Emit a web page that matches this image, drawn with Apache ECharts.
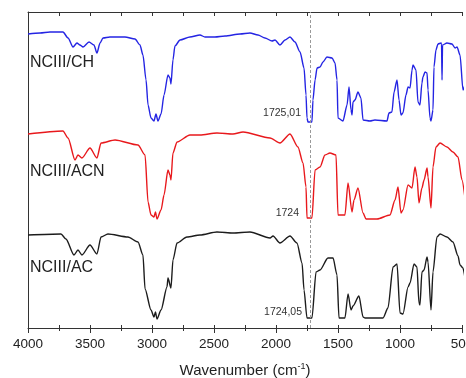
<!DOCTYPE html>
<html>
<head>
<meta charset="utf-8">
<script src="https://cdn.jsdelivr.net/npm/echarts@6/dist/echarts.min.js"></script>
<style>
  * { margin: 0; padding: 0; }
  body { background: #fff; }
  #chart { width: 466px; height: 378px; }
</style>
</head>
<body>
<div id="chart"></div>
<script>
// wavenumber (cm-1) and offset transmittance (a.u.)
const chWave = [4000, 3903, 3823, 3718, 3677, 3637, 3605, 3581, 3556, 3508, 3468, 3444, 3419, 3395, 3339, 3218, 3137, 3097, 3073, 3048, 3032, 3008, 2984, 2968, 2952, 2927, 2903, 2871, 2855, 2847, 2831, 2815, 2774, 2694, 2613, 2573, 2492, 2411, 2290, 2210, 2145, 2089, 2032, 2008, 1968, 1927, 1887, 1847, 1806, 1774, 1758, 1750, 1742, 1710, 1702, 1685, 1669, 1645, 1621, 1589, 1548, 1524, 1508, 1500, 1460, 1427, 1411, 1395, 1387, 1379, 1363, 1339, 1315, 1298, 1242, 1202, 1105, 1089, 1065, 1048, 1024, 1008, 992, 976, 952, 935, 919, 903, 895, 871, 855, 839, 823, 815, 798, 782, 774, 758, 750, 734, 726, 710, 694, 669, 665, 661, 657, 621, 581, 556, 540, 516, 492, 476];
const chT = [147, 147.5, 148, 148, 145, 140.5, 142.5, 141.5, 140.5, 143, 141.5, 137.5, 142.5, 145, 145.5, 145.5, 144.5, 141.5, 136.5, 124, 111.5, 105, 103.5, 107, 103.5, 107, 116.5, 126.5, 125, 122, 134, 141, 144, 145.5, 146.5, 145.5, 145.5, 146, 147, 147.5, 146.5, 145, 143.5, 144, 141.5, 144, 145.5, 143, 138, 130, 116.5, 105, 103, 103, 114, 124, 130, 130.5, 133, 135.5, 135, 132.5, 124, 105, 103.5, 111.5, 120.5, 109, 106.5, 113, 114, 118, 115, 104, 103.5, 104, 103.5, 107.5, 108, 118, 124, 114, 106.5, 107.5, 116.5, 120.5, 120, 129, 131.5, 129, 113, 111.5, 122.5, 125.5, 128, 127.5, 119, 105, 103.5, 109, 130.5, 139, 142, 142.5, 142, 124, 141.5, 142.5, 142, 140, 140.5, 136.5, 119, 121.5];

const acnWave = [4000, 3718, 3677, 3621, 3597, 3565, 3500, 3444, 3411, 3298, 3113, 3056, 3032, 3008, 2984, 2972, 2960, 2927, 2903, 2871, 2855, 2847, 2831, 2798, 2694, 2613, 2476, 2347, 2266, 2048, 1968, 1887, 1823, 1782, 1758, 1750, 1710, 1685, 1645, 1605, 1565, 1516, 1500, 1444, 1419, 1387, 1371, 1339, 1298, 1274, 1185, 1081, 1040, 1016, 992, 976, 935, 903, 879, 863, 847, 823, 806, 782, 774, 750, 734, 710, 677, 621, 573, 532, 500, 476];
const acnT = [97, 98.5, 95, 84, 86.5, 85, 90, 85, 92.5, 94, 91.5, 86.5, 63, 56.5, 55.5, 58, 54.5, 59, 66.5, 79, 76.5, 74, 87.5, 93, 96.5, 96.5, 97.5, 97, 98, 95, 92.5, 97, 90.5, 82.5, 70.5, 55, 55, 79, 80.5, 86.5, 87.5, 86.5, 56.5, 56.5, 72.5, 58, 64, 70, 57.5, 54.5, 54.5, 56.5, 64, 70.5, 57.5, 59, 71.5, 70, 80.5, 75.5, 62.5, 70, 74, 80, 75.5, 60, 80.5, 90.5, 92.5, 90.5, 88, 85.5, 74, 65];

const acWave = [4000, 3734, 3694, 3629, 3597, 3565, 3500, 3444, 3411, 3355, 3194, 3113, 3073, 3056, 3008, 2984, 2972, 2960, 2927, 2879, 2871, 2847, 2831, 2798, 2718, 2613, 2476, 2347, 2210, 2048, 2024, 1968, 1887, 1831, 1790, 1774, 1750, 1710, 1677, 1645, 1581, 1540, 1508, 1492, 1444, 1419, 1395, 1379, 1331, 1298, 1282, 1137, 1097, 1056, 1024, 1000, 976, 935, 919, 887, 863, 847, 839, 823, 806, 782, 774, 750, 734, 702, 677, 621, 573, 532, 516, 492, 476];
const acT = [46.5, 47, 44.5, 36.5, 39, 36.5, 41.5, 37, 45.5, 47, 45.5, 43, 36.5, 19.5, 9, 5.5, 8, 4.5, 9, 20.5, 25, 20, 34, 42.5, 45.5, 46.5, 48, 47.5, 48, 45, 46, 42.5, 46, 42.5, 32.5, 19, 5, 5, 28, 29, 35, 35, 26.5, 5, 5, 17, 9, 11, 16, 5.5, 5, 5, 10, 30.5, 32, 7.5, 7, 20.5, 22.5, 32, 30.5, 12.5, 11.5, 28, 29, 35.5, 33, 9, 28, 45.5, 47, 45.5, 43, 36, 31.5, 30, 25];

const sampleNames = ['NCIII/CH', 'NCIII/ACN', 'NCIII/AC'];
const peakLabels = ['1725,01', '1724', '1724,05'];
const peakPos = 1725;

const zip = (w, t) => w.map((v, i) => [v, t[i]]);

const chart = echarts.init(document.getElementById('chart'));
const font = 'Liberation Sans, Arial, sans-serif';

function lineSeries(name, data, color, extra) {
  return Object.assign({
    name: name,
    type: 'line',
    data: data,
    xAxisIndex: 0,
    showSymbol: false,
    smooth: 0.25,
    smoothMonotone: 'x',
    clip: false,
    lineStyle: { color: color, width: 1.4 },
    itemStyle: { color: color },
    z: 3
  }, extra || {});
}

const option = {
  animation: false,
  backgroundColor: '#fff',
  grid: { left: 28, right: 4, top: 12, bottom: 50, outerBoundsMode: 'none', containLabel: false },
  xAxis: [
    {
      type: 'value', inverse: true, min: 500, max: 4000, interval: 500,
      position: 'bottom',
      name: '{a|Wavenumber (cm}{s|-1}{a|)}',
      nameLocation: 'middle', nameGap: 34,
      nameTextStyle: {
        rich: {
          a: { fontFamily: font, fontSize: 15, color: '#222' },
          s: { fontFamily: font, fontSize: 9, color: '#222', padding: [0, 0, 9, 0] }
        }
      },
      axisLine: { show: true, lineStyle: { color: '#333', width: 1 } },
      axisTick: { show: true, inside: false, length: 5, lineStyle: { color: '#333' } },
      minorTick: { show: true, splitNumber: 2, length: 3, lineStyle: { color: '#333' } },
      axisLabel: { fontFamily: font, fontSize: 13.5, color: '#222', margin: 9, formatter: v => String(v) },
      splitLine: { show: false }
    },
    {
      type: 'value', inverse: true, min: 500, max: 4000, interval: 250,
      position: 'bottom', gridIndex: 0,
      axisLine: { show: false },
      axisTick: { show: true, inside: true, length: 3, lineStyle: { color: '#333' } },
      axisLabel: { show: false },
      splitLine: { show: false }
    },
    {
      type: 'value', inverse: true, min: 500, max: 4000, interval: 250,
      position: 'top',
      axisLine: { show: true, lineStyle: { color: '#333', width: 1 } },
      axisTick: { show: true, inside: true, length: 4, lineStyle: { color: '#333' } },
      axisLabel: { show: false },
      splitLine: { show: false }
    }
  ],
  yAxis: {
    type: 'value', min: 0, max: 158,
    axisLine: { show: true, lineStyle: { color: '#333', width: 1 } },
    axisTick: { show: false },
    axisLabel: { show: false },
    splitLine: { show: false }
  },
  series: [
    lineSeries(sampleNames[0], zip(chWave, chT), '#2424e3', {
      markLine: {
        silent: true, symbol: 'none', label: { show: false },
        lineStyle: { color: '#999', type: [3, 2], width: 1 },
        data: [{ xAxis: peakPos }]
      }
    }),
    lineSeries(sampleNames[1], zip(acnWave, acnT), '#e8181c'),
    lineSeries(sampleNames[2], zip(acWave, acT), '#1c1c1c')
  ],
  graphic: [
    { type: 'text', left: 30, top: 55, style: { text: sampleNames[0], font: '16px ' + font, fill: '#222' } },
    { type: 'text', left: 30, top: 164, style: { text: sampleNames[1], font: '16px ' + font, fill: '#222' } },
    { type: 'text', left: 30, top: 260, style: { text: sampleNames[2], font: '16px ' + font, fill: '#222' } },
    { type: 'text', right: 165, top: 108, style: { text: peakLabels[0], font: '10.5px ' + font, fill: '#333' } },
    { type: 'text', right: 167, top: 208, style: { text: peakLabels[1], font: '10.5px ' + font, fill: '#333' } },
    { type: 'text', right: 164, top: 307, style: { text: peakLabels[2], font: '10.5px ' + font, fill: '#333' } }
  ]
};

chart.setOption(option);
</script>
</body>
</html>
